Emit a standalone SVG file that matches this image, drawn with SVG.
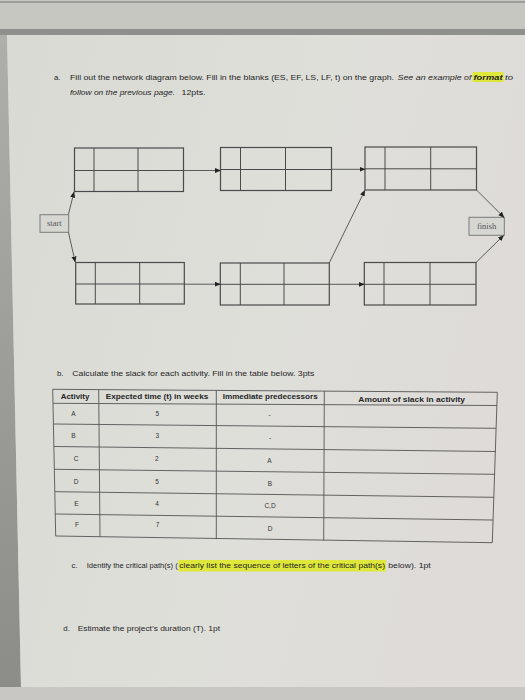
<svg xmlns="http://www.w3.org/2000/svg" width="525" height="700" viewBox="0 0 525 700">
<defs>
<linearGradient id="paper" x1="0" y1="0" x2="1" y2="0.3">
<stop offset="0" stop-color="#d9dad4"/>
<stop offset="0.6" stop-color="#dfdfda"/>
<stop offset="1" stop-color="#dedbd9"/>
</linearGradient>
<linearGradient id="band" x1="0" y1="0" x2="0" y2="1">
<stop offset="0" stop-color="#aeafaa"/>
<stop offset="1" stop-color="#8c8d88"/>
</linearGradient>
<marker id="arr" markerUnits="userSpaceOnUse" markerWidth="6" markerHeight="6" refX="5.5" refY="3" orient="auto">
<path d="M0,0.5 L6,3 L0,5.5 z" fill="#222"/>
</marker>
<style>
.box{fill:none;stroke:#4a4a4a;stroke-width:1.2}
.div{stroke:#4a4a4a;stroke-width:1}
.con{stroke:#3a3a3a;stroke-width:0.8;fill:none;marker-end:url(#arr)}
.term{fill:#d6d7d2;stroke:#7a7a7a;stroke-width:1}
.tl{stroke:#555;stroke-width:0.9}
.t{font-family:"Liberation Sans",Arial,sans-serif;font-size:7.8px;fill:#252525}
.i{font-style:italic}
.b{font-weight:bold}
.h{font-family:"Liberation Sans",Arial,sans-serif;font-size:7.5px;font-weight:bold;fill:#252525;text-anchor:middle}
.c{font-family:"Liberation Sans",Arial,sans-serif;font-size:6.5px;fill:#333;text-anchor:middle}
.s{font-family:"Liberation Serif","Times New Roman",serif;font-size:8.5px;fill:#555;text-anchor:middle}
.hl{fill:#dfe83a}
</style>
</defs>
<rect x="0" y="0" width="525" height="700" fill="#c6c7c1"/>
<rect x="0" y="1" width="525" height="2" fill="#9d9e99"/>
<rect x="0" y="29" width="525" height="6" fill="#8f908b"/>
<polygon points="0,35 7,35 21,687 0,687" fill="url(#band)"/>
<polygon points="7,35 525,35 525,687 21,687" fill="url(#paper)"/>
<rect x="0" y="687" width="525" height="13" fill="#c8c7c4"/>

<g id="question-a">
<text class="t" x="54" y="79.5">a.</text>
<text class="t" x="70" y="79.5" textLength="324" lengthAdjust="spacingAndGlyphs">Fill out the network diagram below. Fill in the blanks (ES, EF, LS, LF, t) on the graph.</text>
<text class="t i" x="397.5" y="79.5" textLength="74" lengthAdjust="spacingAndGlyphs">See an example of</text>
<rect class="hl" x="472.5" y="72" width="31" height="10"/>
<text class="t i b" x="473.5" y="79.5" textLength="29" lengthAdjust="spacingAndGlyphs">format</text>
<text class="t i" x="505" y="79.5" textLength="8" lengthAdjust="spacingAndGlyphs">to</text>
<text class="t i" x="70" y="94.5" textLength="105" lengthAdjust="spacingAndGlyphs">follow on the previous page.</text>
<text class="t" x="181.5" y="94.5" textLength="24" lengthAdjust="spacingAndGlyphs">12pts.</text>
</g>

<g id="start">
<rect class="term" x="40" y="214.7" width="28.7" height="17.6"/>
<text class="s" x="54.3" y="226.2">start</text>
</g>
<g id="finish">
<rect class="term" x="469" y="217.3" width="35.3" height="18"/>
<text class="s" x="486.6" y="229.2">finish</text>
</g>

<g id="node-top-1">
<rect class="box" x="74.5" y="148" width="109" height="43.5"/>
<line class="div" x1="94" y1="148" x2="94" y2="191.5"/>
<line class="div" x1="138" y1="148" x2="138" y2="191.5"/>
<line class="div" x1="74.5" y1="170.5" x2="183.5" y2="170.5"/>
</g>
<g id="node-top-2">
<rect class="box" x="220.5" y="147.5" width="111" height="43"/>
<line class="div" x1="240.5" y1="147.5" x2="240.5" y2="190.5"/>
<line class="div" x1="285.5" y1="147.5" x2="285.5" y2="190.5"/>
<line class="div" x1="220.5" y1="169.5" x2="331.5" y2="169.5"/>
</g>
<g id="node-top-3">
<rect class="box" x="365" y="147" width="111.5" height="43"/>
<line class="div" x1="385" y1="147" x2="385" y2="190"/>
<line class="div" x1="430.7" y1="147" x2="430.7" y2="190"/>
<line class="div" x1="365" y1="168.8" x2="476.5" y2="168.8"/>
</g>
<g id="node-bottom-1">
<rect class="box" x="75.7" y="262.5" width="108.6" height="41.5"/>
<line class="div" x1="95.3" y1="262.5" x2="95.3" y2="304"/>
<line class="div" x1="139.7" y1="262.5" x2="139.7" y2="304"/>
<line class="div" x1="75.7" y1="284" x2="184.3" y2="284"/>
</g>
<g id="node-bottom-2">
<rect class="box" x="220.3" y="263" width="109" height="42"/>
<line class="div" x1="240.3" y1="263" x2="240.3" y2="305"/>
<line class="div" x1="284" y1="263" x2="284" y2="305"/>
<line class="div" x1="220.3" y1="284.3" x2="329.3" y2="284.3"/>
</g>
<g id="node-bottom-3">
<rect class="box" x="364.3" y="262.5" width="111.7" height="42.5"/>
<line class="div" x1="384" y1="262.5" x2="384" y2="305"/>
<line class="div" x1="430" y1="262.5" x2="430" y2="305"/>
<line class="div" x1="364.3" y1="284.3" x2="476" y2="284.3"/>
</g>

<g id="connectors">
<line class="con" x1="68.5" y1="214" x2="74" y2="192"/>
<line class="con" x1="68.5" y1="232.5" x2="75.2" y2="262"/>
<line class="con" x1="183.5" y1="170.5" x2="220.5" y2="170.5"/>
<line class="con" x1="331.5" y1="169.3" x2="365" y2="169.3"/>
<line class="con" x1="184.3" y1="284.2" x2="220.3" y2="284.2"/>
<line class="con" x1="329.3" y1="284.3" x2="364.3" y2="284.3"/>
<line class="con" x1="329.3" y1="262.8" x2="364.8" y2="190.5"/>
<line class="con" x1="476.5" y1="190" x2="504" y2="217.3"/>
<line class="con" x1="476" y1="262.5" x2="503.5" y2="235.5"/>
</g>

<g id="question-b">
<text class="t" x="57" y="376">b.</text>
<text class="t" x="72.3" y="376" textLength="242" lengthAdjust="spacingAndGlyphs">Calculate the slack for each activity. Fill in the table below. 3pts</text>
</g>

<g id="table">
<line class="tl" x1="52.7" y1="389.3" x2="497.3" y2="392.3"/>
<line class="tl" x1="53" y1="403.3" x2="497" y2="405.5"/>
<line class="tl" x1="53.5" y1="424" x2="496" y2="428.3"/>
<line class="tl" x1="54" y1="446.5" x2="495.5" y2="451.5"/>
<line class="tl" x1="54.5" y1="469.3" x2="494.5" y2="474.3"/>
<line class="tl" x1="55" y1="491.7" x2="494" y2="497.3"/>
<line class="tl" x1="55.3" y1="514" x2="493" y2="520"/>
<line class="tl" x1="55.7" y1="536" x2="492.3" y2="542.7"/>
<line class="tl" x1="52.7" y1="389.3" x2="55.7" y2="536"/>
<line class="tl" x1="98.7" y1="389.6" x2="100" y2="536.5"/>
<line class="tl" x1="216.3" y1="390.5" x2="216.3" y2="539.2"/>
<line class="tl" x1="324.3" y1="391.2" x2="323.7" y2="540.5"/>
<line class="tl" x1="497.3" y1="392.3" x2="492.3" y2="542.7"/>

<text class="h" x="75" y="398.7" textLength="28.6" lengthAdjust="spacingAndGlyphs">Activity</text>
<text class="h" x="157" y="398.7" textLength="102.6" lengthAdjust="spacingAndGlyphs">Expected time (t) in weeks</text>
<text class="h" x="270.2" y="399.2" textLength="95" lengthAdjust="spacingAndGlyphs">Immediate predecessors</text>
<text class="h" x="411.7" y="402" textLength="106.7" lengthAdjust="spacingAndGlyphs">Amount of slack in activity</text>

<text class="c" x="73.3" y="415.6">A</text>
<text class="c" x="157.3" y="415.6">5</text>
<text class="c" x="269.5" y="416.5">-</text>

<text class="c" x="73.5" y="438.3">B</text>
<text class="c" x="157.3" y="438.3">3</text>
<text class="c" x="270" y="440.3">-</text>

<text class="c" x="76" y="461.3">C</text>
<text class="c" x="156.7" y="461.3">2</text>
<text class="c" x="269.5" y="463">A</text>

<text class="c" x="76" y="484">D</text>
<text class="c" x="157" y="484">5</text>
<text class="c" x="270" y="485.5">B</text>

<text class="c" x="76.5" y="505.7">E</text>
<text class="c" x="157" y="505.7">4</text>
<text class="c" x="270" y="508.3">C,D</text>

<text class="c" x="77" y="527.4">F</text>
<text class="c" x="157.5" y="527.4">7</text>
<text class="c" x="270" y="531.3">D</text>
</g>

<g id="question-c">
<text class="t" x="71.5" y="567.5">c.</text>
<text class="t" x="86.7" y="567.5" textLength="91" lengthAdjust="spacingAndGlyphs">Identify the critical path(s) (</text>
<rect class="hl" x="178.5" y="560" width="207.5" height="11.5"/>
<text class="t" x="179.3" y="567.5" textLength="205.7" lengthAdjust="spacingAndGlyphs">clearly list the sequence of letters of the critical path(s)</text>
<text class="t" x="388.3" y="567.5" textLength="42.4" lengthAdjust="spacingAndGlyphs">below). 1pt</text>
</g>

<g id="question-d">
<text class="t" x="63.3" y="631">d.</text>
<text class="t" x="77.7" y="631" textLength="142.3" lengthAdjust="spacingAndGlyphs">Estimate the project’s duration (T). 1pt</text>
</g>
</svg>
